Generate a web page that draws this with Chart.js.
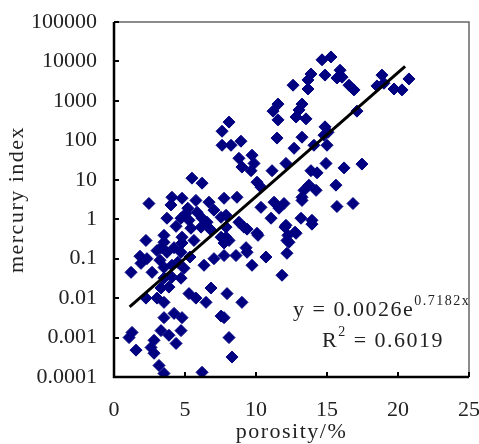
<!DOCTYPE html>
<html>
<head>
<meta charset="utf-8">
<script src="https://cdn.jsdelivr.net/npm/chart.js@4.4.0/dist/chart.umd.min.js"></script>
<style>
html, body { margin: 0; padding: 0; background: #fff; }
#wrap { width: 479px; height: 444px; }
</style>
</head>
<body>
<div id="wrap"><canvas id="chart" width="479" height="444"></canvas></div>
<script>
// values
const porosity = [
    14.65, 15.28, 15.92, 16.06, 15.70, 16.55, 16.90, 17.11, 18.87, 18.52,
    19.01, 19.72, 20.28, 20.77, 13.87, 13.66, 12.61, 13.66, 14.86, 11.55,
    11.20, 11.55, 13.24, 13.03, 12.82, 13.52, 8.10, 7.61, 14.86, 15.07,
    14.79, 8.94, 11.48, 13.24, 7.61, 8.24, 12.68, 14.08, 15.00, 8.80,
    9.72, 9.01, 9.65, 9.86, 11.13, 12.11, 13.87, 14.30, 14.93, 16.20,
    17.46, 13.73, 13.38, 14.23, 13.24, 15.63, 10.07, 10.35, 8.66, 5.49,
    6.20, 2.46, 4.08, 4.79, 4.01, 5.77, 6.69, 7.75, 15.70, 16.83,
    10.35, 11.27, 11.97, 11.62, 13.24, 7.89, 8.80, 9.15, 10.07, 11.06,
    12.11, 13.17, 13.94, 12.82, 12.18, 7.89, 9.30, 5.07, 5.85, 4.72,
    5.28, 7.04, 7.54, 3.73, 5.42, 6.13, 6.83, 7.89, 3.52, 2.25,
    4.79, 5.63, 7.54, 8.10, 3.31, 4.23, 12.04, 12.75, 13.94, 12.25,
    9.37, 10.14, 3.52, 4.79, 7.75, 3.03, 3.73, 4.72, 1.90, 2.32,
    1.20, 2.68, 3.52, 4.08, 4.93, 6.34, 7.04, 7.75, 3.52, 4.08,
    4.72, 3.31, 3.87, 2.25, 3.03, 3.52, 5.28, 5.77, 6.83, 7.96,
    6.48, 8.59, 9.37, 9.72, 10.70, 12.18, 11.83, 12.32, 9.01, 3.52,
    4.23, 4.79, 7.54, 4.72, 3.31, 3.87, 1.27, 1.06, 2.82, 4.37,
    2.61, 2.82, 1.55, 8.10, 3.17, 3.52, 6.20, 8.31, 7.75, 1.83,
    6.20, 4.50, 5.35, 3.24, 5.20, 6.55, 4.37
];
const mercuryIndex = [
    11000, 13000, 6000, 4000, 3800, 2500, 1900, 550, 4500, 2400,
    2800, 2000, 1900, 3600, 4800, 3400, 2500, 2000, 4500, 830,
    550, 330, 830, 590, 390, 350, 290, 170, 220, 160,
    135, 95, 114, 120, 75, 75, 63, 75, 75, 35,
    42, 21, 17, 26, 17, 26, 17, 15, 26, 20,
    25, 7.3, 5.4, 5.4, 3.6, 7.3, 8.7, 6.5, 3.6, 11,
    8.2, 2.5, 3.6, 3.4, 2.3, 3.0, 2.7, 3.4, 2.1, 2.5,
    2.0, 2.7, 2.5, 1.9, 3.0, 1.26, 0.84, 0.63, 0.44, 1.06,
    0.70, 1.06, 0.94, 0.44, 0.29, 0.35, 0.19, 1.4, 1.5, 1.06,
    0.94, 1.7, 1.12, 1.06, 0.59, 0.63, 0.53, 0.63, 0.39, 0.29,
    0.35, 0.29, 0.35, 0.29, 0.19, 0.19, 0.63, 0.47, 0.75, 0.39,
    0.56, 0.39, 0.26, 0.25, 0.25, 0.16, 0.145, 0.145, 0.076, 0.10,
    0.045, 0.045, 0.060, 0.068, 0.057, 0.068, 0.10, 0.12, 0.032, 0.034,
    0.032, 0.018, 0.019, 0.010, 0.010, 0.0078, 0.013, 0.010, 0.018, 0.013,
    0.0078, 0.12, 0.145, 0.068, 0.11, 0.137, 0.038, 0.26, 0.0078, 0.0032,
    0.0041, 0.0032, 0.0035, 0.0015, 0.0015, 0.00114, 0.00135, 0.0010, 0.00085, 0.00071,
    0.00056, 0.00040, 0.00048, 0.0010, 0.000196, 0.000123, 0.000131, 0.00032, 0.0032, 0.115,
    1.06, 0.081, 0.11, 0.091, 1.9, 0.84, 0.66
];

// ends of the exponential trend line
const trendX = [1.1, 20.5];
const trendY = [0.006, 7500];

const xTicks = [0, 5, 10, 15, 20, 25];
const yTicks = [0.0001, 0.001, 0.01, 0.1, 1, 10, 100, 1000, 10000, 100000];

const xTitle = 'porosity/%';
const yTitle = 'mercury index';
const fitMain = 'y = 0.0026e';
const fitExp = '0.7182x';
const r2Main = 'R';
const r2Exp = '2';
const r2Value = ' = 0.6019';

const serif = '"Liberation Serif", "Times New Roman", serif';

const decorPlugin = {
    id: 'decor',
    afterDraw(chart) {
        const ctx = chart.ctx;
        const a = chart.chartArea;
        const xs = chart.scales.x, ys = chart.scales.y;
        ctx.save();

        // frame
        ctx.strokeStyle = '#666';
        ctx.lineWidth = 1.5;
        ctx.beginPath();
        ctx.moveTo(a.left, a.top); ctx.lineTo(a.right, a.top); ctx.lineTo(a.right, a.bottom);
        ctx.stroke();
        ctx.strokeStyle = '#000';
        ctx.lineWidth = 2.5;
        ctx.beginPath();
        ctx.moveTo(a.left, a.top); ctx.lineTo(a.left, a.bottom); ctx.lineTo(a.right, a.bottom);
        ctx.stroke();

        // inward tick marks
        ctx.lineWidth = 2;
        ctx.beginPath();
        yTicks.forEach(v => {
            const py = Math.round(ys.getPixelForValue(v));
            ctx.moveTo(a.left, py); ctx.lineTo(a.left + 5, py);
        });
        xTicks.forEach(v => {
            const px = Math.round(xs.getPixelForValue(v));
            ctx.moveTo(px, a.bottom); ctx.lineTo(px, a.bottom - 5);
        });
        ctx.stroke();

        // axis titles
        ctx.fillStyle = '#222';
        ctx.letterSpacing = '1.5px';
        ctx.font = '22px ' + serif;
        ctx.textAlign = 'center';
        ctx.textBaseline = 'middle';
        ctx.fillText(xTitle, (a.left + a.right) / 2, chart.height - 12);
        ctx.save();
        ctx.translate(17, (a.top + a.bottom) / 2);
        ctx.rotate(-Math.PI / 2);
        ctx.fillText(yTitle, 0, 0);
        ctx.restore();

        // fit equation
        ctx.textAlign = 'left';
        let x0 = a.left + 179, y0 = a.top + 288;
        ctx.font = '22px ' + serif;
        ctx.fillText(fitMain, x0, y0);
        let w = ctx.measureText(fitMain).width;
        ctx.font = '14px ' + serif;
        ctx.fillText(fitExp, x0 + w, y0 - 9);

        x0 = a.left + 208; y0 = a.top + 319;
        ctx.font = '22px ' + serif;
        ctx.fillText(r2Main, x0, y0);
        w = ctx.measureText(r2Main).width;
        ctx.font = '14px ' + serif;
        ctx.fillText(r2Exp, x0 + w, y0 - 9);
        const w2 = ctx.measureText(r2Exp).width;
        ctx.font = '22px ' + serif;
        ctx.fillText(r2Value, x0 + w + w2, y0);

        ctx.restore();
    }
};

new Chart(document.getElementById('chart'), {
    type: 'scatter',
    data: {
        datasets: [{
            data: trendX.map((x, i) => ({ x, y: trendY[i] })),
            showLine: true,
            borderColor: '#000',
            borderWidth: 3,
            pointRadius: 0,
            fill: false
        }, {
            data: porosity.map((x, i) => ({ x, y: mercuryIndex[i] })),
            pointStyle: 'rectRot',
            pointRadius: 6,
            backgroundColor: '#000080',
            borderColor: '#000080',
            borderWidth: 1
        }]
    },
    options: {
        responsive: false,
        animation: false,
        devicePixelRatio: 1,
        layout: { padding: { left: 0, right: 10, top: 22, bottom: 0 } },
        plugins: {
            legend: { display: false },
            tooltip: { enabled: false }
        },
        scales: {
            x: {
                type: 'linear',
                min: 0,
                max: 25,
                afterBuildTicks: s => { s.ticks = xTicks.map(v => ({ value: v })); },
                afterFit: s => { s.height = 67; s.paddingLeft = 0; s.paddingRight = 0; },
                grid: { display: false, drawTicks: false },
                border: { display: false },
                ticks: { padding: 20, color: '#222', font: { family: serif, size: 22 } }
            },
            y: {
                type: 'logarithmic',
                min: 0.0001,
                max: 100000,
                afterBuildTicks: s => { s.ticks = yTicks.map(v => ({ value: v })); },
                afterFit: s => { s.width = 114; s.paddingTop = 0; s.paddingBottom = 0; },
                grid: { display: false, drawTicks: false },
                border: { display: false },
                ticks: {
                    padding: 17,
                    color: '#222',
                    font: { family: serif, size: 22 },
                    callback: v => String(v)
                }
            }
        }
    },
    plugins: [decorPlugin]
});
</script>
</body>
</html>
